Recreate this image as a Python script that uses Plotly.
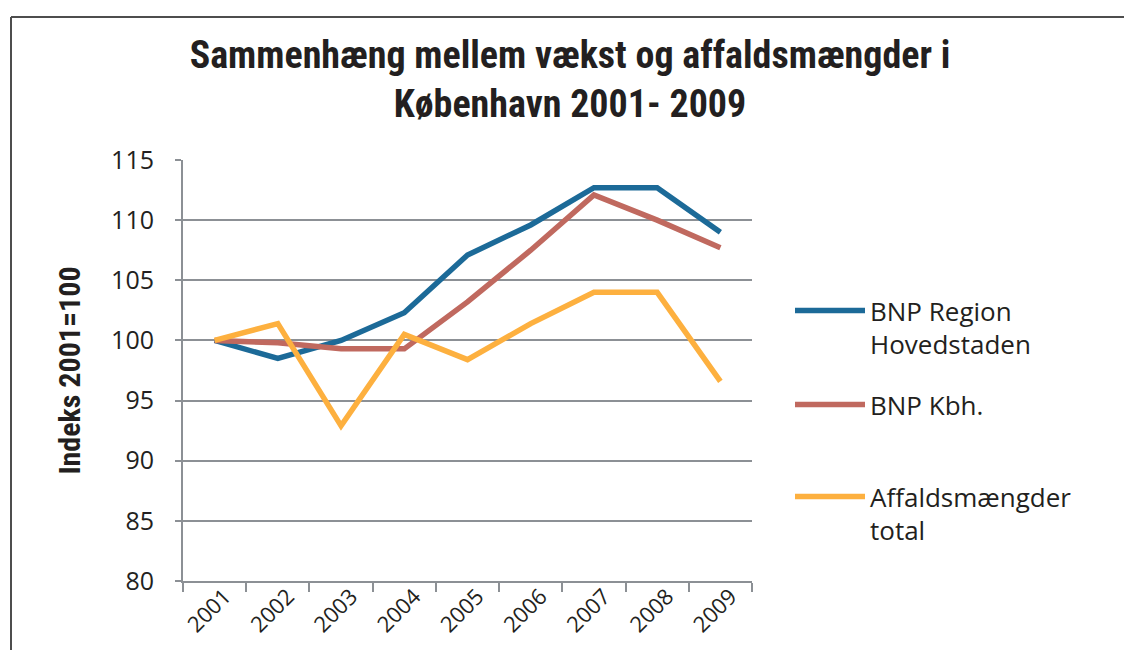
import plotly.graph_objects as go

# Data (index 2001 = 100)
years = ["2001", "2002", "2003", "2004", "2005", "2006", "2007", "2008", "2009"]
bnp_region = [100, 98.5, 100, 102.3, 107.1, 109.6, 112.7, 112.7, 109.0]
bnp_kbh = [100, 99.8, 99.3, 99.3, 103.2, 107.5, 112.1, 110.0, 107.7]
affald = [100, 101.4, 92.9, 100.5, 98.4, 101.4, 104.0, 104.0, 96.6]

series_names = ["BNP Region<br>Hovedstaden", "BNP Kbh.<br> ", "Affaldsmængder<br>total"]
series_colors = ["#1c6a98", "#c0695f", "#fdb03f"]

# the page body has an 8px margin, so the figure is shrunk by that much
OFF = 8
W, H = 1132 - OFF, 650 - OFF
L, T = 183 - OFF, 160 - OFF
R, B = 1132 - 752, 650 - 581
PW, PH = W - L - R, H - T - B

GRID = "#8c9095"
TEXT = "#231f20"
BODY_FONT = "Open Sans"
BOLD_FONT = "Liberation Sans Narrow, Roboto Condensed, Roboto"


def px_x(x):
    # page pixel -> paper coordinate
    return (x - OFF - L) / PW


def px_y(y):
    return (H - B - (y - OFF)) / PH


fig = go.Figure()
legends = ["legend", "legend2", "legend3"]
for name, vals, color, lg in zip(series_names, [bnp_region, bnp_kbh, affald], series_colors, legends):
    fig.add_trace(go.Scatter(
        x=years, y=vals, name=name, mode="lines", legend=lg,
        line=dict(color=color, width=5.5),
    ))

legend_tops = [287, 381, 473]
legend_style = dict(
    font=dict(family=BODY_FONT, size=26, color=TEXT),
    bgcolor="rgba(0,0,0,0)", xanchor="left", yanchor="top",
    valign="top", itemwidth=70,
)
layout_legends = {
    lg: dict(x=px_x(790), y=px_y(top), **legend_style)
    for lg, top in zip(legends, legend_tops)
}

fig.update_layout(
    width=W, height=H,
    margin=dict(l=L, r=R, t=T, b=B, autoexpand=False),
    paper_bgcolor="white", plot_bgcolor="white",
    showlegend=True,
    title=dict(
        text="<b>Sammenhæng mellem vækst og affaldsmængder i<br>København 2001- 2009</b>",
        x=0.5, xanchor="center", y=1 - (68 - OFF) / H, yanchor="middle",
        font=dict(family=BOLD_FONT, size=38, color=TEXT),
    ),
    **layout_legends,
)

fig.update_xaxes(
    type="category", range=[-0.5, len(years) - 0.5],
    tickson="boundaries", ticks="outside", ticklen=9,
    tickwidth=2, tickcolor=GRID, showline=True, linecolor=GRID, linewidth=2,
    showgrid=False, tickangle=-45, ticklabelshift=10, ticklabelstandoff=-8,
    tickfont=dict(family=BODY_FONT, size=22, color=TEXT),
)
fig.update_yaxes(
    range=[80, 115], dtick=5, ticks="outside", ticklen=6, tickwidth=2,
    tickcolor=GRID, showline=True, linecolor=GRID, linewidth=2,
    showgrid=True, gridcolor=GRID, gridwidth=2, zeroline=False,
    ticklabelstandoff=16,
    tickfont=dict(family=BODY_FONT, size=25, color=TEXT),
    title=dict(text="<b>Indeks 2001=100</b>", standoff=22,
               font=dict(family=BOLD_FONT, size=30, color=TEXT)),
)

# outer frame (top and left edges only, as in the reference)
frame = dict(type="line", xref="paper", yref="paper", line=dict(color="#4d4d4d", width=2))
fig.add_shape(x0=px_x(11), x1=px_x(1140), y0=px_y(17), y1=px_y(17), **frame)
fig.add_shape(x0=px_x(11), x1=px_x(11), y0=px_y(17), y1=px_y(660), **frame)

fig.write_html("out.html")
